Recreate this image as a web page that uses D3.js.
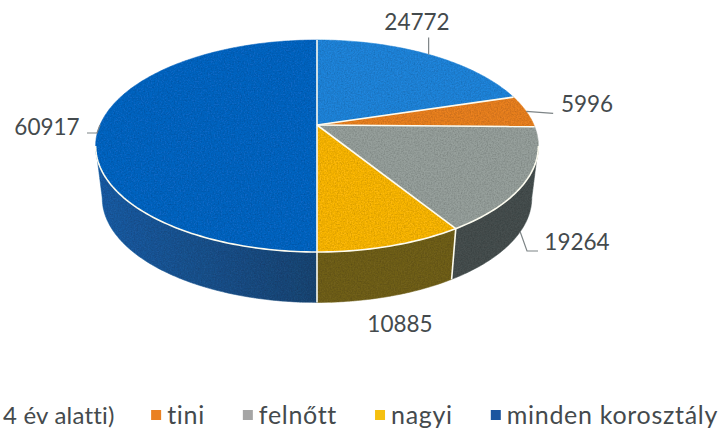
<!DOCTYPE html>
<meta charset="utf-8">
<style>
html, body { margin: 0; background: #fff; overflow: hidden; }
svg { display: block; }
text { font-family: Lato, "Open Sans", sans-serif; fill: #444a4d; }
.leader { fill: none; stroke: #7d8486; stroke-width: 1.2px; }
.sep { fill: none; stroke: #fdfcf0; stroke-width: 1.6px; }
</style>
<body>
<svg width="722" height="433">
  <defs>
    <filter id="grain" x="0" y="0" width="100%" height="100%">
      <feTurbulence type="fractalNoise" baseFrequency="0.7" numOctaves="2" seed="4" result="n"/>
      <feColorMatrix in="n" type="matrix" values="0 0 0 0 0  0 0 0 0 0  0 0 0 0 0  0.6 0 0 0 -0.2"/>
      <feComposite in2="SourceGraphic" operator="in" result="g"/>
      <feMerge><feMergeNode in="SourceGraphic"/><feMergeNode in="g"/></feMerge>
    </filter>
    <linearGradient id="sideBlue" gradientUnits="userSpaceOnUse" x1="96" y1="0" x2="317" y2="0">
      <stop offset="0" stop-color="#1a5da6"/>
      <stop offset="0.45" stop-color="#1c5390"/>
      <stop offset="1" stop-color="#1f4674"/>
    </linearGradient>
  </defs>
</svg>
<script src="https://d3js.org/d3.v7.min.js"></script>
<script>
var categories = ["4 év alatti)", "tini", "felnőtt", "nagyi", "minden korosztály"];
var values = [24772, 5996, 19264, 10885, 60917];
var topColors = ["#2385dc", "#ea8122", "#97a09c", "#fcb80f", "#0a66c4"];
var sideColors = ["#1d4f80", "#7a4a1c", "#465050", "#71601f", "url(#sideBlue)"];
var legendColors = ["#2385dc", "#ea8122", "#a5a5a5", "#f5c010", "#1b559f"];

var svg = d3.select("svg");

// tilted disc: perspective projection of the unit circle
var cx = 317, cy = 125, r = 217;
var k = 0.198, b = -77.1;
var depth = 52, ellipseY = 146, bottomShrink = 0.97;

function project(a) {
	var u = Math.sin(a), v = Math.cos(a), w = 1 + k * v;
	return [cx + r * u / w, (cy + b * v) / w];
}
function projectBottom(a) {
	var p = project(a);
	return [cx + (p[0] - cx) * bottomShrink, ellipseY + depth + (p[1] - ellipseY) * 0.985];
}
function sample(a0, a1) {
	var n = Math.max(2, Math.ceil(Math.abs(a1 - a0) / 0.02));
	return d3.range(n + 1).map(function(i) { return a0 + (a1 - a0) * i / n; });
}

var pie = d3.pie().sort(null).startAngle(0).endAngle(2 * Math.PI);
var slices = pie(values);
var line = d3.line();
var sideStart = Math.PI - Math.asin(Math.sqrt(1 - k * k));
var sideEnd = 2 * Math.PI - sideStart;

var disc = svg.append("g").attr("filter", "url(#grain)");

/* ------- SIDE WALLS ------- */
slices.forEach(function(d, i) {
	var a0 = Math.max(d.startAngle, sideStart), a1 = Math.min(d.endAngle, sideEnd);
	if (a1 <= a0) return;
	var angles = sample(a0, a1);
	var pts = angles.map(project).concat(angles.slice().reverse().map(projectBottom));
	disc.append("path").attr("d", line(pts) + "Z")
		.attr("fill", sideColors[i]).attr("stroke", sideColors[i]).attr("stroke-width", 0.5);
});

/* ------- TOP FACE ------- */
slices.forEach(function(d, i) {
	var pts = [[cx, cy]].concat(sample(d.startAngle, d.endAngle).map(project));
	disc.append("path").attr("d", line(pts) + "Z")
		.attr("fill", topColors[i]).attr("stroke", topColors[i]).attr("stroke-width", 0.5);
});

/* ------- SEPARATORS ------- */
slices.forEach(function(d) {
	svg.append("path").attr("class", "sep").attr("d", line([[cx, cy], project(d.startAngle)]));
	if (d.startAngle >= sideStart && d.startAngle <= sideEnd)
		svg.append("path").attr("class", "sep").attr("d", line([project(d.startAngle), projectBottom(d.startAngle)]));
});
svg.append("path").attr("class", "sep").attr("d", line(sample(sideStart, sideEnd).map(project)));

/* ------- LABELS AND LEADERS ------- */
function midAngle(d) { return (d.startAngle + d.endAngle) / 2; }
var rims = slices.map(function(d) { return project(midAngle(d)); });
var leaders = [
	[rims[0], [rims[0][0], rims[0][1] - 17]],
	[rims[1], [rims[1][0] + 27, rims[1][1] + 2]],
	[projectBottom(midAngle(slices[2])), [527, 251], [538, 251]],
	null,
	[rims[4], [rims[4][0] - 3, rims[4][1] + 8], [rims[4][0] - 13, rims[4][1] + 8]]
];
var labelX = [417, 587, 577, 400, 47];
var labelY = [30, 112, 250, 332, 135];

leaders.forEach(function(pts) {
	if (pts) svg.append("path").attr("class", "leader").attr("d", line(pts));
});
values.forEach(function(v, i) {
	svg.append("text").attr("x", labelX[i]).attr("y", labelY[i])
		.attr("text-anchor", "middle").attr("font-size", 22.5).text(v);
});

/* ------- LEGEND ------- */
var legendEnd = 718, legendY = 415, swatch = 10, gap = 6, spacing = 38;
var x = legendEnd;
for (var i = categories.length - 1; i >= 0; i--) {
	var t = svg.append("text").attr("y", legendY + 9).attr("font-size", 25)
		.attr("letter-spacing", 0.7).text(categories[i]);
	var tw = t.node().getComputedTextLength();
	// first entry runs up against the left edge, tighten it to stay in frame
	if (i == 0) {
		t.attr("font-size", 24).attr("letter-spacing", 0.2);
		tw = t.node().getComputedTextLength();
		t.attr("x", Math.max(3, x - tw));
		continue;
	}
	t.attr("x", x - tw);
	svg.append("rect").attr("x", x - tw - gap - swatch).attr("y", legendY - swatch / 2)
		.attr("width", swatch).attr("height", swatch).attr("fill", legendColors[i]);
	x = x - tw - gap - swatch - spacing;
}
</script>
</body>
